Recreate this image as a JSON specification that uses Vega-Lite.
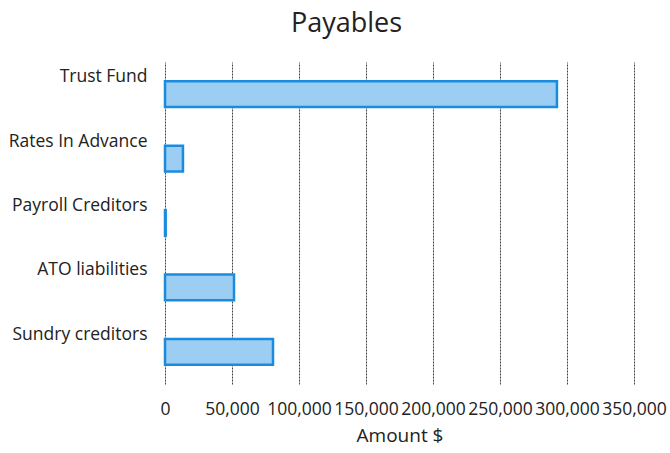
{
  "$schema": "https://vega.github.io/schema/vega-lite/v6.json",
  "autosize": {"type": "none"},
  "padding": {"left": 165, "top": 62, "right": 36, "bottom": 69},
  "width": 469,
  "height": 322,
  "background": "white",
  "title": {
    "text": "Payables",
    "fontSize": 27,
    "font": "Open Sans",
    "fontWeight": "normal",
    "color": "#222",
    "anchor": "middle",
    "dx": -53,
    "offset": 24
  },
  "data": {
    "values": [
      {"category": "Trust Fund", "amount": 292500},
      {"category": "Rates In Advance", "amount": 13400},
      {"category": "Payroll Creditors", "amount": 500},
      {"category": "ATO liabilities", "amount": 51500},
      {"category": "Sundry creditors", "amount": 80600}
    ]
  },
  "mark": {
    "type": "bar",
    "fill": "#9ccdf2",
    "stroke": "#1a8ce0",
    "strokeWidth": 2.5
  },
  "encoding": {
    "y": {
      "field": "category",
      "type": "nominal",
      "sort": null,
      "scale": {"paddingInner": 0.6, "paddingOuter": 0.3},
      "axis": {
        "title": null,
        "domain": false,
        "ticks": false,
        "labelPadding": 18,
        "labelOffset": -17,
        "labelFontSize": 17.5,
        "labelFont": "Open Sans",
        "labelColor": "#222"
      }
    },
    "x": {
      "field": "amount",
      "type": "quantitative",
      "scale": {"domain": [0, 350000], "nice": false},
      "axis": {
        "title": "Amount $",
        "titleFontSize": 19,
        "titleFont": "Open Sans",
        "titleFontWeight": "normal",
        "titleColor": "#222",
        "titlePadding": 9,
        "values": [0, 50000, 100000, 150000, 200000, 250000, 300000, 350000],
        "format": ",.0f",
        "domain": false,
        "ticks": false,
        "grid": true,
        "gridColor": "#444",
        "gridDash": [2, 1],
        "gridWidth": 1,
        "labelPadding": 16,
        "labelFontSize": 17.5,
        "labelFont": "Open Sans",
        "labelColor": "#222",
        "labelFlush": false,
        "labelOverlap": false
      }
    }
  },
  "config": {"view": {"stroke": null}}
}
